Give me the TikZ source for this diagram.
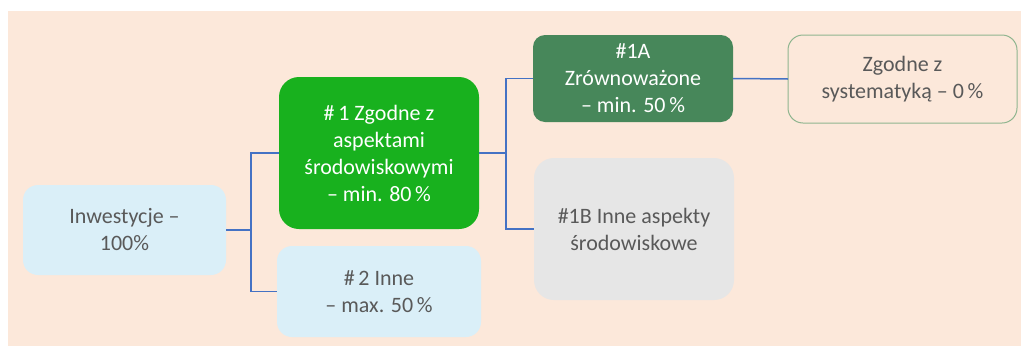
\documentclass[tikz,border=0pt]{standalone}
\usepackage{fontspec}
\setmainfont{Carlito}
\definecolor{bgpeach}{HTML}{FCE8DA}
\definecolor{ltblue}{HTML}{DAEFF8}
\definecolor{brgreen}{HTML}{18B11E}
\definecolor{dkgreen}{HTML}{47875A}
\definecolor{ltgray}{HTML}{E6E6E6}
\definecolor{txtgray}{HTML}{595959}
\definecolor{bordgreen}{HTML}{8FB58F}
\definecolor{linkblue}{HTML}{4472C4}
\begin{document}
\begin{tikzpicture}[x=1pt,y=-1pt,
  box/.style={inner sep=0pt,outer sep=0pt,align=center,
    font=\fontsize{22}{27}\selectfont},
  link/.style={draw=linkblue,line width=1.5pt}]
\useasboundingbox (0,0) rectangle (1021,346);
\fill[bgpeach] (8,11) rectangle (1021,346);
\node[box,fill=ltblue,text=txtgray,rounded corners=15pt,minimum width=203pt,minimum height=90pt] (inw) at (124.5,230) {Inwestycje --\\100\%};
\node[box,fill=brgreen,text=white,rounded corners=20pt,minimum width=200pt,minimum height=152pt] (zg) at (379,153) {\#\,1 Zgodne z\\aspektami\\środowiskowymi\\-- min. 80\,\%};
\node[box,fill=ltblue,text=txtgray,rounded corners=15pt,minimum width=204pt,minimum height=91pt] (in2) at (379,291.5) {\#\,2 Inne\\-- max. 50\,\%};
\node[box,fill=dkgreen,text=white,rounded corners=12pt,minimum width=200pt,minimum height=87pt] (a1) at (633,78.5) {\#1A\\Zrównoważone\\-- min. 50\,\%};
\node[box,fill=ltgray,text=txtgray,rounded corners=20pt,minimum width=200pt,minimum height=142pt] (b1) at (634,229) {\#1B Inne aspekty\\środowiskowe};
\node[box,fill=bgpeach,draw=bordgreen,line width=1pt,text=txtgray,rounded corners=15pt,minimum width=229pt,minimum height=88pt] (sys) at (902.5,79) {Zgodne z\\systematyką -- 0\,\%};
\coordinate (j1) at (251,230);
\coordinate (j2) at (506,153);
\draw[link] (inw.east) -- (j1);
\draw[link] (zg.west) -| (j1) |- (in2.west);
\draw[link] (zg.east) -- (j2);
\draw[link] (a1.west) -| (j2) |- (b1.west);
\draw[link] (a1.east) -- (sys.west);
\end{tikzpicture}
\end{document}
